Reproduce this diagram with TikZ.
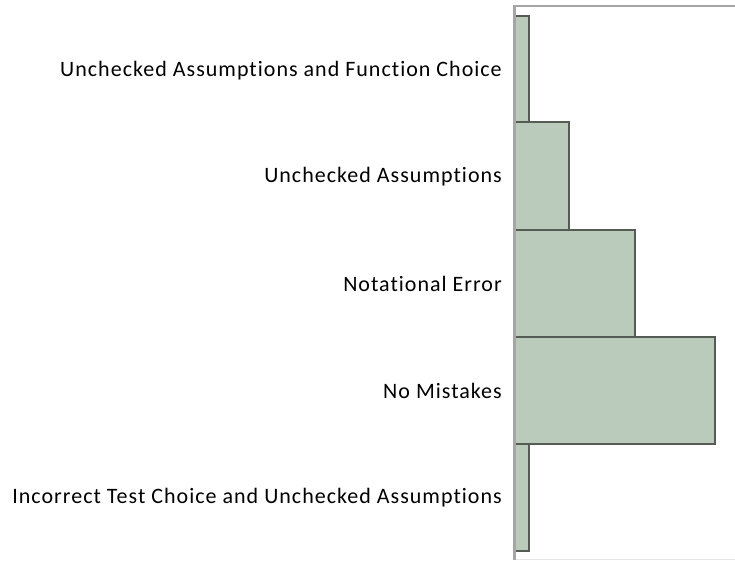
\documentclass[tikz,border=0pt]{standalone}
\usepackage{fontspec}
\setmainfont[Ligatures=NoCommon,LetterSpace=4.6]{Carlito}
\definecolor{barfill}{HTML}{BACBBB}
\definecolor{barline}{HTML}{545C53}
\definecolor{axisgray}{HTML}{A6A6A6}
\definecolor{faint}{HTML}{E6E6E6}
\begin{document}
\begin{tikzpicture}[x=1pt,y=-1pt,
  bar/.style={fill=barfill,draw=barline,line width=2pt},
  lab/.style={anchor=east,inner sep=0pt,font=\fontsize{22}{26}\selectfont,text=black}]
\useasboundingbox (0,0) rectangle (735,560);
\draw[faint,line width=1pt] (515,559) -- (735,559);
\draw[axisgray,line width=2pt] (515,5.5) -- (735,5.5);
% bars
\draw[bar] (515,16) rectangle (528.5,122);
\draw[bar] (515,122) rectangle (568.5,230);
\draw[bar] (515,230) rectangle (634.5,337);
\draw[bar] (515,337) rectangle (714.5,444);
\draw[bar] (515,444) rectangle (528.5,551);
\draw[axisgray,line width=2.2pt] (514.5,4.5) -- (514.5,560);
% labels
\node[lab] (l1) at (502,70.5) {Unchecked Assumptions and Function Choice};
\node[lab] (l2) at (502,177) {Unchecked Assumptions};
\node[lab] (l3) at (502,283.5) {Notational Error};
\node[lab] (l4) at (502,390.5) {No Mistakes};
\node[lab] (l5) at (502,497.5) {Incorrect Test Choice and Unchecked Assumptions};
\end{tikzpicture}
\end{document}
